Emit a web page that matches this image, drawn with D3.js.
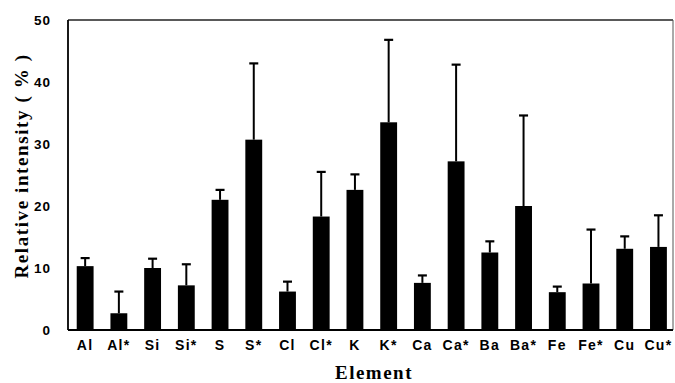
<!DOCTYPE html>
<html>
<head>
<meta charset="utf-8">
<script src="https://cdn.jsdelivr.net/npm/d3@7"></script>
<style>
  body { margin: 0; background: #fff; }
  svg { display: block; }
</style>
</head>
<body>
<div id="chart-area"></div>
<script>
// Data
let elements = ["Al", "Al*", "Si", "Si*", "S", "S*", "Cl", "Cl*", "K", "K*",
                "Ca", "Ca*", "Ba", "Ba*", "Fe", "Fe*", "Cu", "Cu*"];
let means = [10.3, 2.7, 10.0, 7.2, 21.0, 30.7, 6.2, 18.3, 22.6, 33.5,
             7.6, 27.2, 12.5, 20.0, 6.1, 7.5, 13.1, 13.4];
let errors = [1.3, 3.5, 1.5, 3.4, 1.6, 12.3, 1.6, 7.2, 2.5, 13.3,
              1.2, 15.6, 1.8, 14.6, 0.9, 8.7, 2.0, 5.1];
let yTicks = [0, 10, 20, 30, 40, 50];

let data = elements.map((e, i) => ({name: e, mean: means[i], err: errors[i]}));

// SVG drawing area
let W = 675, H = 383;
let plot = {left: 68, right: 673, top: 20, bottom: 330};

let svg = d3.select("#chart-area").append("svg")
    .attr("width", W)
    .attr("height", H);

// Scales
let x = d3.scaleBand()
    .domain(elements)
    .range([plot.left + 1.3, plot.right + 1.3])
    .paddingInner(0.5)
    .paddingOuter(0.22);

let y = d3.scaleLinear()
    .domain([0, 50])
    .range([plot.bottom, plot.top]);

// Bars
svg.selectAll(".bar")
    .data(data)
    .enter()
    .append("rect")
    .attr("class", "bar")
    .attr("x", d => x(d.name))
    .attr("y", d => y(d.mean))
    .attr("width", x.bandwidth())
    .attr("height", d => y(0) - y(d.mean))
    .attr("fill", "#000");

// Error bars (upper only)
let cx = d => x(d.name) + x.bandwidth() / 2;

svg.selectAll(".err")
    .data(data)
    .enter()
    .append("line")
    .attr("class", "err")
    .attr("x1", cx).attr("x2", cx)
    .attr("y1", d => y(d.mean))
    .attr("y2", d => y(d.mean + d.err))
    .attr("stroke", "#000")
    .attr("stroke-width", 2);

svg.selectAll(".cap")
    .data(data)
    .enter()
    .append("line")
    .attr("class", "cap")
    .attr("x1", d => cx(d) - 4.5).attr("x2", d => cx(d) + 4.5)
    .attr("y1", d => y(d.mean + d.err))
    .attr("y2", d => y(d.mean + d.err))
    .attr("stroke", "#000")
    .attr("stroke-width", 2.2);

// Frame
svg.append("line")
    .attr("x1", plot.left).attr("x2", plot.right)
    .attr("y1", plot.top).attr("y2", plot.top)
    .attr("stroke", "#222").attr("stroke-width", 1.3);
svg.append("line")
    .attr("x1", plot.right).attr("x2", plot.right)
    .attr("y1", plot.top).attr("y2", plot.bottom)
    .attr("stroke", "#555").attr("stroke-width", 1);
svg.append("line")
    .attr("x1", plot.left).attr("x2", plot.left)
    .attr("y1", plot.top).attr("y2", plot.bottom)
    .attr("stroke", "#000").attr("stroke-width", 1.8);
svg.append("line")
    .attr("x1", plot.left).attr("x2", plot.right)
    .attr("y1", plot.bottom).attr("y2", plot.bottom)
    .attr("stroke", "#000").attr("stroke-width", 1.8);

// Y axis
let yAxis = svg.append("g")
    .attr("class", "y-axis")
    .attr("transform", `translate(${plot.left},0)`)
    .call(d3.axisLeft(y).tickValues(yTicks).tickSize(0).tickPadding(17));
yAxis.select(".domain").remove();
yAxis.selectAll("text")
    .style("font-family", "'Liberation Sans', Arial, sans-serif")
    .style("font-weight", "bold")
    .style("font-size", "13.5px")
    .style("letter-spacing", "1px")
    .attr("fill", "#000");

// X axis
let xAxis = svg.append("g")
    .attr("class", "x-axis")
    .attr("transform", `translate(0,${plot.bottom})`)
    .call(d3.axisBottom(x).tickSize(0).tickPadding(10));
xAxis.select(".domain").remove();
xAxis.selectAll("text")
    .style("font-family", "'Liberation Sans', Arial, sans-serif")
    .style("font-weight", "bold")
    .style("font-size", "14px")
    .style("letter-spacing", "1.3px")
    .attr("fill", "#000");

// Axis titles
svg.append("text")
    .attr("x", 374)
    .attr("y", 378.5)
    .attr("text-anchor", "middle")
    .style("font-family", "'Liberation Serif', 'Times New Roman', serif")
    .style("font-weight", "bold")
    .style("font-size", "19px")
    .style("letter-spacing", "1.5px")
    .text("Element");

svg.append("text")
    .attr("transform", "translate(28,166) rotate(-90)")
    .attr("text-anchor", "middle")
    .style("font-family", "'Liberation Serif', 'Times New Roman', serif")
    .style("font-weight", "bold")
    .style("font-size", "19px")
    .style("letter-spacing", "1.6px")
    .text("Relative intensity ( % )");
</script>
</body>
</html>
